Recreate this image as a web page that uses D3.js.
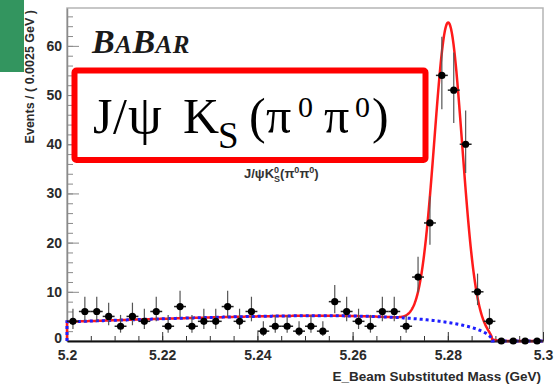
<!DOCTYPE html>
<html lang="en">
<head>
<meta charset="UTF-8">
<script src="https://d3js.org/d3.v7.min.js"></script>
<style>
  body { margin: 0; background: #fff; }
  svg { display: block; }
</style>
</head>
<body>
<svg id="chart" width="556" height="384"></svg>
<script>
// histogram: 40 bins of 0.0025 GeV from 5.20 to 5.30
const binLow = 5.2;
const binWidth = 0.0025;
const counts = [4, 6, 6, 5, 3, 5, 4, 6, 3, 7,
                3, 4, 4, 7, 4, 6, 2, 3, 3, 2,
                3, 2, 8, 6, 4, 3, 6, 6, 3, 13,
                24, 54, 51, 40, 10, 4, 0, 0, 0, 0];
const xTicks = [5.2, 5.22, 5.24, 5.26, 5.28, 5.3];
const yTicks = [0, 10, 20, 30, 40, 50, 60];

// fit: gaussian signal + ARGUS background
const sigMean = 5.2801, sigWidth = 0.0029, sigPeak = 61;
const argusEnd = 5.2893, argusC = -36, bgAt52 = 3.9;

const svg = d3.select("#chart");
const x = d3.scaleLinear().domain([5.2, 5.3]).range([67, 543]);
const y = d3.scaleLinear().domain([0, 67.7]).range([341, 8]);

function argusRaw(m) {
    const u = 1 - (m / argusEnd) * (m / argusEnd);
    if (u <= 0) return 0;
    return m * Math.sqrt(u) * Math.exp(argusC * u);
}
const bgNorm = bgAt52 / argusRaw(5.2);
const bg = m => bgNorm * argusRaw(m);
const total = m => bg(m) + sigPeak * Math.exp(-0.5 * Math.pow((m - sigMean) / sigWidth, 2));

// frame
svg.append("rect")
    .attr("x", x(5.2)).attr("y", y(67.7))
    .attr("width", x(5.3) - x(5.2)).attr("height", y(0) - y(67.7))
    .attr("fill", "none").attr("stroke", "#b5b5b5").attr("stroke-width", 1.5);

// y axis, ticks pointing into the plot
const yMinor = d3.range(0, 68, 2);
svg.append("g").attr("transform", `translate(${x(5.2)},0)`)
    .call(d3.axisLeft(y).tickValues(yMinor).tickSizeInner(-6).tickSizeOuter(0).tickFormat(""))
    .call(g => g.selectAll("line").attr("stroke", "#8a8a8a"))
    .call(g => g.select(".domain").attr("stroke", "#8a8a8a").attr("stroke-width", 1.5));
svg.append("g").attr("transform", `translate(${x(5.2)},0)`)
    .call(d3.axisLeft(y).tickValues(yTicks).tickSizeInner(-12).tickSizeOuter(0).tickPadding(5).tickFormat(d3.format("d")))
    .call(g => g.select(".domain").remove())
    .call(g => g.selectAll("line").attr("stroke", "#8a8a8a"))
    .call(g => g.selectAll("text").attr("font-family", "Liberation Sans, Arial, sans-serif")
        .attr("font-size", 14).attr("font-weight", "bold").attr("fill", "#2a2a2a"))
    .call(g => g.selectAll("text").filter(d => d === 0).attr("dy", "0.1em"));

// x axis
const xMinor = d3.range(0, 21).map(i => 5.2 + i * 0.005);
svg.append("g").attr("transform", `translate(0,${y(0)})`)
    .call(d3.axisBottom(x).tickValues(xMinor).tickSizeInner(-5).tickSizeOuter(0).tickFormat(""))
    .call(g => g.selectAll("line").attr("stroke", "#333"))
    .call(g => g.select(".domain").attr("stroke", "#111").attr("stroke-width", 2));
svg.append("g").attr("transform", `translate(0,${y(0)})`)
    .call(d3.axisBottom(x).tickValues(xTicks).tickSizeInner(-9).tickSizeOuter(0).tickPadding(9).tickFormat(d => String(+d.toFixed(2))))
    .call(g => g.select(".domain").remove())
    .call(g => g.selectAll("line").attr("stroke", "#333"))
    .call(g => g.selectAll("text").attr("font-family", "Liberation Sans, Arial, sans-serif")
        .attr("font-size", 14).attr("font-weight", "bold").attr("fill", "#2a2a2a"));

// axis titles
svg.append("text")
    .attr("x", 541).attr("y", 381).attr("text-anchor", "end")
    .attr("font-family", "Liberation Sans, Arial, sans-serif").attr("font-size", 13.5)
    .attr("font-weight", "bold").attr("fill", "#2a2a2a")
    .text("E_Beam Substituted Mass (GeV)");
svg.append("text")
    .attr("transform", "translate(34,10) rotate(-90)").attr("text-anchor", "end")
    .attr("font-family", "Liberation Sans, Arial, sans-serif").attr("font-size", 12.5)
    .attr("font-weight", "bold").attr("fill", "#2a2a2a")
    .text("Events / ( 0.0025 GeV )");

// fit curves
const grid = d3.range(0, 1001).map(i => 5.2 + i * 0.0001);
const line = d3.line().x(d => x(d[0])).y(d => y(d[1]));
const totalPts = [[5.2, 0]].concat(grid.map(m => [m, total(m)]));
const bgPts = [[5.2, 0]].concat(grid.map(m => [m, bg(m)]));

svg.append("path").attr("d", line(totalPts))
    .attr("fill", "none").attr("stroke", "#ff1a1a").attr("stroke-width", 2.5);
svg.append("path").attr("d", line(bgPts))
    .attr("fill", "none").attr("stroke", "#1f1fff").attr("stroke-width", 3)
    .attr("stroke-dasharray", "3,3");

// data points with errors
const pts = counts.map((n, i) => ({
    m: binLow + (i + 0.5) * binWidth,
    n: n,
    hi: n > 0 ? n + Math.sqrt(n + 0.25) + 0.5 : n,
    lo: n > 0 ? n - Math.sqrt(n + 0.25) + 0.5 : n
}));
const pg = svg.append("g");
pg.selectAll(".ey").data(pts).join("line")
    .attr("x1", d => x(d.m)).attr("x2", d => x(d.m))
    .attr("y1", d => y(d.lo)).attr("y2", d => y(d.hi))
    .attr("stroke", "#555").attr("stroke-width", 1.2);
pg.selectAll(".ex").data(pts).join("line")
    .attr("x1", d => x(d.m - binWidth / 2)).attr("x2", d => x(d.m + binWidth / 2))
    .attr("y1", d => y(d.n)).attr("y2", d => y(d.n))
    .attr("stroke", "#222").attr("stroke-width", 1.5);
pg.selectAll("circle").data(pts).join("circle")
    .attr("cx", d => x(d.m)).attr("cy", d => y(d.n)).attr("r", 3.6)
    .attr("fill", "#000");

// small ROOT label below the box
const lab = svg.append("text")
    .attr("x", 244).attr("y", 178)
    .attr("font-family", "Liberation Sans, Arial, sans-serif").attr("font-size", 13)
    .attr("font-weight", "bold").attr("fill", "#333");
lab.append("tspan").text("J/ψK");
lab.append("tspan").attr("font-size", 9).attr("dy", -5).text("0");
lab.append("tspan").attr("font-size", 9).attr("dx", -5).attr("dy", 9).text("S");
lab.append("tspan").attr("dy", -4).text("(π");
lab.append("tspan").attr("font-size", 9).attr("dy", -5).text("0");
lab.append("tspan").attr("dy", 5).text("π");
lab.append("tspan").attr("font-size", 9).attr("dy", -5).text("0");
lab.append("tspan").attr("dy", 5).text(")");

// BaBar logo
const logo = svg.append("text")
    .attr("x", 92).attr("y", 53)
    .attr("font-family", "Liberation Serif, Times New Roman, serif")
    .attr("font-style", "italic").attr("font-weight", "bold").attr("fill", "#1a1a1a")
    .attr("letter-spacing", 0.5);
logo.append("tspan").attr("font-size", 34).text("B");
logo.append("tspan").attr("font-size", 25).text("A");
logo.append("tspan").attr("font-size", 34).text("B");
logo.append("tspan").attr("font-size", 25).text("AR");

// red title box
svg.append("rect")
    .attr("x", 74.5).attr("y", 70.5).attr("width", 351).attr("height", 89.5)
    .attr("rx", 2).attr("fill", "#fff").attr("stroke", "#ff0000").attr("stroke-width", 6);
const title = svg.append("text")
    .attr("y", 133)
    .attr("font-family", "Liberation Serif, Times New Roman, serif")
    .attr("font-size", 50).attr("fill", "#000");
title.append("tspan").attr("x", 93).text("J");
title.append("tspan").attr("x", 113).text("/");
title.append("tspan").attr("x", 128).attr("font-size", 54).text("ψ");
title.append("tspan").attr("x", 183).text("K");
title.append("tspan").attr("x", 218).attr("font-size", 37).attr("dy", 15).text("S");
title.append("tspan").attr("x", 249).attr("dy", -15).text("(");
title.append("tspan").attr("x", 266).text("π");
title.append("tspan").attr("x", 298).attr("font-size", 30).attr("dy", -16).text("0");
title.append("tspan").attr("x", 324).attr("dy", 16).text("π");
title.append("tspan").attr("x", 355).attr("font-size", 30).attr("dy", -16).text("0");
title.append("tspan").attr("x", 372).attr("dy", 16).text(")");

// green corner patch
svg.append("rect").attr("x", 0).attr("y", 0).attr("width", 24).attr("height", 72)
    .attr("fill", "#33955f");
</script>
</body>
</html>
